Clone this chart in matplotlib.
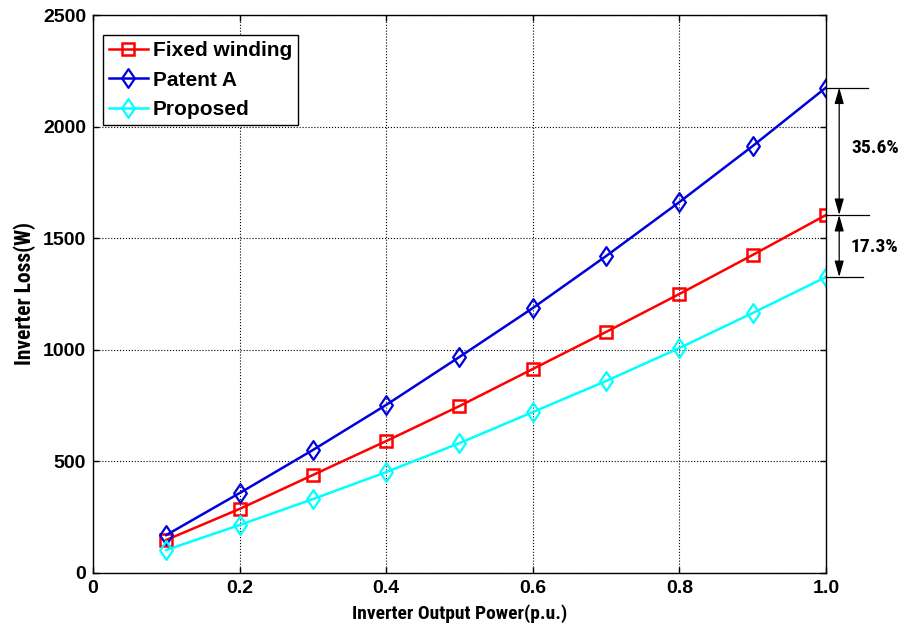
import numpy as np
import matplotlib
matplotlib.use('Agg')
import matplotlib.pyplot as plt
from matplotlib import font_manager
from matplotlib.path import Path

# output power (p.u.) and inverter losses (W)
power = [0.1, 0.2, 0.3, 0.4, 0.5, 0.6, 0.7, 0.8, 0.9, 1.0]
loss_fixed = [148, 287, 439, 591, 748, 914, 1080, 1250, 1425, 1604]
loss_patent = [170, 358, 551, 753, 968, 1187, 1420, 1662, 1913, 2175]
loss_proposed = [103, 215, 331, 452, 582, 721, 860, 1008, 1165, 1326]
pct_labels = ['35.6%', '17.3%']

# narrow face for the axis labels if one is around
installed = {f.name for f in font_manager.fontManager.ttflist}
narrow = [n for n in ['DejaVu Sans Condensed', 'Liberation Sans Narrow',
                      'Roboto Condensed', 'Open Sans Condensed']
          if n in installed]
label_font = narrow[:1] + ['DejaVu Sans']

plt.rcParams['font.family'] = ['Liberation Sans', 'DejaVu Sans']
plt.rcParams['font.weight'] = 'bold'

# slightly tall diamond, like the one MATLAB draws
diamond = Path([(0, 1), (0.68, 0), (0, -1), (-0.68, 0), (0, 1)],
               [Path.MOVETO, Path.LINETO, Path.LINETO, Path.LINETO,
                Path.CLOSEPOLY])

fig = plt.figure(figsize=(8.99, 6.33), dpi=100)
ax = fig.add_axes([0.1034, 0.0948, 0.8154, 0.8815])

ax.plot(power, loss_fixed, color='red', lw=1.8, marker='s', ms=9,
        mfc='none', mec='red', mew=1.8, label='Fixed winding')
ax.plot(power, loss_patent, color='#0000dd', lw=1.8, marker=diamond, ms=13.5,
        mfc='none', mec='#0000dd', mew=1.6, label='Patent A')
ax.plot(power, loss_proposed, color='cyan', lw=1.8, marker=diamond, ms=13.5,
        mfc='none', mec='cyan', mew=1.6, label='Proposed')

ax.set_xlim(0, 1.0)
ax.set_ylim(0, 2500)
ax.set_xticks([0, 0.2, 0.4, 0.6, 0.8, 1.0])
ax.set_xticklabels(['0', '0.2', '0.4', '0.6', '0.8', '1.0'])
ax.set_yticks([0, 500, 1000, 1500, 2000, 2500])
ax.grid(True, color='black', linestyle=':', linewidth=0.8)
ax.tick_params(direction='in', labelsize=14, width=1, length=4,
               top=True, right=True, pad=5)
for sp in ax.spines.values():
    sp.set_linewidth(1.0)

ax.set_xlabel('Inverter Output Power(p.u.)', fontsize=14, family=label_font,
              fontweight='bold', labelpad=5)
ax.set_ylabel('Inverter Loss(W)', fontsize=15.5, family=label_font,
              fontweight='bold', labelpad=5)

leg = ax.legend(loc='upper left', bbox_to_anchor=(0.0135, 0.964), fontsize=15,
                fancybox=False, edgecolor='black', framealpha=1,
                handlelength=1.85, borderpad=0.3, labelspacing=0.5,
                handletextpad=0.25, borderaxespad=0)
leg.get_frame().set_linewidth(1.0)

# difference markers to the right of the last point
x_end = power[-1]
for y, x2 in [(loss_patent[-1], 1.057), (loss_fixed[-1], 1.058),
              (loss_proposed[-1], 1.05)]:
    ax.plot([x_end, x2], [y, y], color='black', lw=0.9, clip_on=False)

arrow = dict(arrowstyle='<|-|>,head_length=0.7,head_width=0.2', color='black',
             lw=0.9, mutation_scale=14, shrinkA=0, shrinkB=0)
ax.annotate('', xy=(1.018, loss_patent[-1]), xytext=(1.018, loss_fixed[-1]),
            arrowprops=arrow, annotation_clip=False)
ax.annotate('', xy=(1.018, loss_fixed[-1]), xytext=(1.018, loss_proposed[-1]),
            arrowprops=arrow, annotation_clip=False)

ax.text(1.067, 1903, pct_labels[0], fontsize=14, family=label_font,
        fontweight='bold', ha='center', va='center', clip_on=False)
ax.text(1.066, 1461, pct_labels[1], fontsize=14, family=label_font,
        fontweight='bold', ha='center', va='center', clip_on=False)

fig.savefig('out.png', dpi=100)
